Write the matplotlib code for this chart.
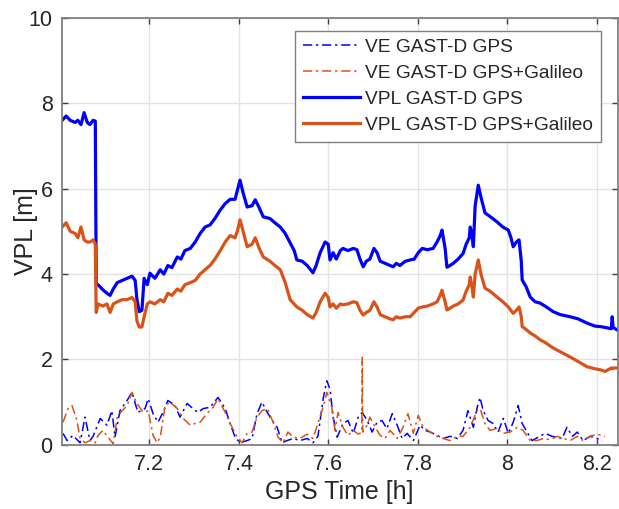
import numpy as np
import matplotlib
matplotlib.use("Agg")
import matplotlib.pyplot as plt

plt.rcParams['font.family'] = ['Liberation Sans', 'DejaVu Sans']

# protection levels (VPL), common time base [h]
t_vpl = [7.006, 7.015, 7.024, 7.035, 7.041, 7.048, 7.055, 7.062, 7.068, 7.075,
         7.080, 7.082, 7.086, 7.097, 7.106, 7.113, 7.120, 7.129, 7.140, 7.151,
         7.162, 7.169, 7.173, 7.178, 7.184, 7.189, 7.196, 7.202, 7.213, 7.225,
         7.233, 7.242, 7.251, 7.263, 7.271, 7.280, 7.292, 7.303, 7.314, 7.325,
         7.336, 7.347, 7.359, 7.370, 7.381, 7.392, 7.397, 7.403, 7.410, 7.419,
         7.430, 7.437, 7.446, 7.455, 7.470, 7.481, 7.493, 7.504, 7.515, 7.524,
         7.530, 7.542, 7.553, 7.566, 7.573, 7.582, 7.593, 7.600, 7.604, 7.611,
         7.618, 7.627, 7.633, 7.644, 7.656, 7.664, 7.671, 7.678, 7.685, 7.693,
         7.702, 7.709, 7.716, 7.727, 7.738, 7.745, 7.752, 7.760, 7.772, 7.783,
         7.792, 7.801, 7.810, 7.821, 7.834, 7.843, 7.850, 7.854, 7.861, 7.865,
         7.872, 7.879, 7.890, 7.901, 7.908, 7.915, 7.917, 7.921, 7.924, 7.928,
         7.935, 7.941, 7.950, 7.961, 7.977, 7.990, 8.002, 8.008, 8.013, 8.020,
         8.026, 8.031, 8.033, 8.042, 8.051, 8.062, 8.073, 8.084, 8.102, 8.118,
         8.140, 8.158, 8.178, 8.196, 8.207, 8.218, 8.232, 8.234, 8.236, 8.245]

vpl_gps = [7.6, 7.7, 7.6, 7.55, 7.6, 7.5, 7.78, 7.55, 7.5, 7.6,
           7.58, 3.75, 3.75, 3.63, 3.55, 3.5, 3.65, 3.8, 3.85, 3.9,
           3.95, 3.85, 3.4, 3.12, 3.15, 3.9, 3.75, 4.02, 3.9, 4.1,
           4.0, 4.2, 4.15, 4.4, 4.35, 4.55, 4.6, 4.75, 4.95, 5.1,
           5.15, 5.3, 5.5, 5.65, 5.75, 5.75, 5.95, 6.2, 5.9, 5.57,
           5.6, 5.74, 5.55, 5.34, 5.3, 5.2, 5.1, 4.95, 4.73, 4.55,
           4.33, 4.3, 4.2, 4.03, 4.2, 4.5, 4.75, 4.7, 4.33, 4.5,
           4.35, 4.55, 4.6, 4.55, 4.6, 4.57, 4.35, 4.17, 4.3, 4.35,
           4.6, 4.5, 4.3, 4.25, 4.2, 4.17, 4.25, 4.2, 4.3, 4.33,
           4.35, 4.5, 4.6, 4.57, 4.6, 4.75, 4.9, 5.03, 4.6, 4.16,
           4.2, 4.25, 4.35, 4.48, 4.7, 4.85, 5.1, 4.9, 4.64, 5.6,
           6.08, 5.8, 5.43, 5.35, 5.22, 5.1, 5.03, 4.85, 4.64, 4.75,
           4.8, 4.3, 3.86, 3.7, 3.46, 3.35, 3.32, 3.25, 3.12, 3.05,
           3.0, 2.95, 2.85, 2.78, 2.77, 2.75, 2.72, 3.0, 2.75, 2.69]

vpl_gal = [5.1, 5.2, 5.0, 4.95, 4.85, 5.1, 4.8, 4.75, 4.75, 4.8,
           4.7, 3.1, 3.3, 3.25, 3.3, 3.1, 3.3, 3.35, 3.4, 3.4,
           3.45, 3.35, 2.9, 2.76, 2.76, 3.0, 3.3, 3.35, 3.3, 3.4,
           3.35, 3.55, 3.5, 3.65, 3.6, 3.75, 3.8, 3.85, 4.0, 4.1,
           4.2, 4.35, 4.55, 4.75, 4.9, 4.85, 5.0, 5.27, 5.0, 4.64,
           4.7, 4.85, 4.6, 4.4, 4.3, 4.2, 4.1, 3.8, 3.4, 3.3,
           3.23, 3.15, 3.05, 2.97, 3.1, 3.35, 3.55, 3.45, 3.23, 3.3,
           3.2, 3.3, 3.28, 3.3, 3.35, 3.33, 3.15, 3.04, 3.1, 3.15,
           3.35, 3.23, 3.05, 3.0, 2.95, 2.93, 3.0, 2.97, 3.0, 3.0,
           3.1, 3.2, 3.23, 3.25, 3.3, 3.35, 3.5, 3.62, 3.35, 3.16,
           3.2, 3.25, 3.3, 3.39, 3.6, 3.75, 3.93, 3.7, 3.46, 4.0,
           4.33, 4.0, 3.67, 3.6, 3.46, 3.35, 3.23, 3.15, 3.08, 3.15,
           3.23, 3.0, 2.77, 2.7, 2.62, 2.55, 2.46, 2.4, 2.27, 2.18,
           2.06, 1.95, 1.83, 1.78, 1.76, 1.72, 1.8, 1.78, 1.8, 1.8]

# vertical errors (VE)
t_ve_gps = [7.008, 7.017, 7.030, 7.046, 7.057, 7.068, 7.075, 7.091, 7.106, 7.117,
            7.124, 7.135, 7.151, 7.162, 7.175, 7.191, 7.198, 7.209, 7.220, 7.231,
            7.242, 7.258, 7.269, 7.285, 7.298, 7.309, 7.321, 7.336, 7.354, 7.370,
            7.381, 7.392, 7.403, 7.419, 7.430, 7.441, 7.452, 7.464, 7.475, 7.486,
            7.497, 7.508, 7.522, 7.537, 7.553, 7.566, 7.577, 7.589, 7.597, 7.604,
            7.611, 7.620, 7.633, 7.644, 7.656, 7.667, 7.676, 7.687, 7.698, 7.709,
            7.720, 7.731, 7.743, 7.754, 7.765, 7.776, 7.790, 7.805, 7.816, 7.828,
            7.843, 7.857, 7.872, 7.888, 7.901, 7.912, 7.924, 7.932, 7.939, 7.946,
            7.957, 7.968, 7.979, 7.991, 8.002, 8.013, 8.024, 8.033, 8.044, 8.055,
            8.069, 8.084, 8.100, 8.111, 8.122, 8.133, 8.145, 8.156, 8.169, 8.185,
            8.200, 8.212]
ve_gps = [0.27, 0.1, 0.22, 0.05, 0.65, 0.1, 0.2, 0.62, 0.46, 0.8,
          0.18, 0.8, 1.04, 1.23, 0.76, 0.85, 1.08, 0.73, 0.53, 0.76,
          1.04, 0.92, 0.65, 0.97, 0.85, 0.76, 0.85, 0.88, 1.11, 0.85,
          0.5, 0.18, 0.05, 0.1, 0.15, 0.73, 1.0, 0.76, 0.57, 0.41,
          0.05, 0.1, 0.15, 0.1, 0.15, 0.05, 0.2, 1.1, 1.5, 1.3,
          0.65, 0.18, 0.5, 0.57, 0.27, 0.65, 0.76, 0.57, 0.3, 0.53,
          0.57, 0.38, 0.73, 0.46, 0.15, 0.27, 0.1, 0.46, 0.34, 0.3,
          0.22, 0.15, 0.2, 0.15, 0.34, 0.8, 0.41, 0.85, 1.11, 0.8,
          0.57, 0.5, 0.3, 0.62, 0.27, 0.53, 0.92, 0.5, 0.3, 0.1,
          0.18, 0.27, 0.2, 0.18, 0.15, 0.41, 0.2, 0.3, 0.1, 0.2,
          0.15, 0.1]

t_ve_gal = [7.008, 7.019, 7.028, 7.039, 7.046, 7.057, 7.068, 7.080, 7.086, 7.097,
            7.108, 7.120, 7.129, 7.140, 7.151, 7.162, 7.173, 7.187, 7.198, 7.209,
            7.218, 7.225, 7.236, 7.247, 7.263, 7.276, 7.292, 7.303, 7.314, 7.329,
            7.343, 7.354, 7.370, 7.381, 7.397, 7.408, 7.419, 7.430, 7.441, 7.452,
            7.464, 7.477, 7.488, 7.499, 7.510, 7.522, 7.537, 7.553, 7.566, 7.577,
            7.589, 7.597, 7.608, 7.615, 7.622, 7.633, 7.644, 7.656, 7.667, 7.675,
            7.676, 7.677, 7.687, 7.693, 7.705, 7.716, 7.727, 7.738, 7.754, 7.767,
            7.778, 7.790, 7.801, 7.812, 7.828, 7.843, 7.857, 7.872, 7.888, 7.901,
            7.917, 7.932, 7.939, 7.950, 7.961, 7.977, 7.990, 8.006, 8.022, 8.035,
            8.051, 8.066, 8.080, 8.096, 8.111, 8.125, 8.140, 8.156, 8.169, 8.185,
            8.200, 8.218]
ve_gal = [0.53, 0.85, 0.92, 0.57, 0.15, 0.05, 0.1, 0.05, 0.22, 0.34,
          0.18, 0.03, 0.65, 0.8, 0.92, 1.23, 0.97, 0.76, 0.8, 0.22,
          0.05, 0.18, 0.92, 1.0, 0.85, 0.62, 0.46, 0.5, 0.53, 0.73,
          0.88, 1.08, 0.76, 0.5, 0.18, 0.05, 0.27, 0.3, 0.65, 0.8,
          0.85, 0.53, 0.18, 0.05, 0.3, 0.18, 0.15, 0.25, 0.15, 0.5,
          0.9, 1.23, 0.88, 0.34, 0.76, 0.41, 0.22, 0.34, 0.25, 0.3,
          2.05, 0.3, 0.46, 0.65, 0.41, 0.22, 0.15, 0.34, 0.15, 0.41,
          0.73, 0.27, 0.69, 0.41, 0.3, 0.2, 0.15, 0.1, 0.2, 0.2,
          0.41, 0.8, 0.85, 0.5, 0.34, 0.38, 0.27, 0.3, 0.41, 0.34,
          0.1, 0.1, 0.15, 0.12, 0.2, 0.15, 0.1, 0.2, 0.1, 0.2,
          0.25, 0.2]

blue = (0, 0, 1)
orange = (0.85, 0.325, 0.098)
dashdot = (0, (6, 2.5, 1.5, 2.5))

fig = plt.figure(figsize=(6.19, 5.09), dpi=100)
ax = fig.add_axes([0.0997, 0.126, 0.898, 0.839])

ax.plot(t_ve_gps, ve_gps, ls=dashdot, color=blue, lw=1.1, label='VE GAST-D GPS')
ax.plot(t_ve_gal, ve_gal, ls=dashdot, color=orange, lw=1.1, label='VE GAST-D GPS+Galileo')
ax.plot(t_vpl, vpl_gps, '-', color=blue, lw=2.3, label='VPL GAST-D GPS')
ax.plot(t_vpl, vpl_gal, '-', color=orange, lw=2.3, label='VPL GAST-D GPS+Galileo')

ax.set_xlim(7.005, 8.246)
ax.set_ylim(0, 10)
ax.set_xticks([7.2, 7.4, 7.6, 7.8, 8.0, 8.2])
ax.set_xticklabels(['7.2', '7.4', '7.6', '7.8', '8', '8.2'])
ax.set_yticks([0, 2, 4, 6, 8, 10])

ax.grid(True, color='#e3e3e3', lw=1)
ax.set_axisbelow(True)
for sp in ax.spines.values():
    sp.set_color('#808080')
    sp.set_linewidth(1.3)
ax.tick_params(direction='in', length=4, width=1, color='#404040',
               top=True, right=True, labelsize=15.5, labelcolor='#262626', pad=6.5)

ax.set_xlabel('GPS Time [h]', fontsize=18, color='#262626', labelpad=4)
ax.set_ylabel('VPL [m]', fontsize=18, color='#262626')
ax.yaxis.set_label_coords(-0.042, 0.5)

leg = ax.legend(loc='upper right', bbox_to_anchor=(0.9694, 0.9696), borderaxespad=0,
                fontsize=13.8, handlelength=3.0, handletextpad=0.25, labelspacing=0.45,
                borderpad=0.4, fancybox=False, framealpha=1)
leg.get_frame().set_edgecolor('#808080')
leg.get_frame().set_linewidth(1.0)
for txt in leg.get_texts():
    txt.set_color('#262626')

fig.savefig('out.png', dpi=100)
